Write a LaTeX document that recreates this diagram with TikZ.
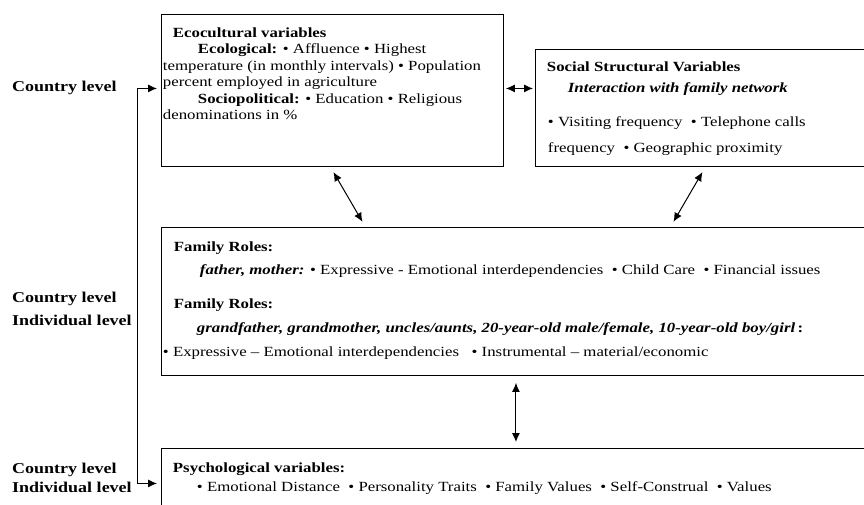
\documentclass[tikz,border=0pt]{standalone}
\usepackage{fontspec}
\setmainfont{Liberation Serif}[FakeStretch=1.2]
\usetikzlibrary{arrows.meta}

\newcommand\boxlines[3]{\parbox[c][#1][t]{#2}{\fontsize{14}{16.5}\selectfont
  \raggedright\leftskip=1.5pt\parindent=0pt #3}}

\begin{document}
\begin{tikzpicture}[x=1pt, y=-1pt, line cap=round, >={Latex[length=9pt,width=8pt]},
  box/.style={draw, line width=0.9pt, inner sep=0pt, anchor=north west},
  level/.style={align=left, anchor=west, inner sep=0pt}]

\clip (0,0) rectangle (864,504);

\node[box] (eco) at (161,14) {\boxlines{152pt}{342pt}{\vspace*{11.4pt}\strut
\hspace*{10pt}\textbf{Ecocultural variables}\\
\hspace*{35pt}\textbf{Ecological:} • Affluence • Highest\\
temperature (in monthly intervals) • Population\\
percent employed in agriculture\\
\hspace*{35pt}\textbf{Sociopolitical:} • Education • Religious\\
denominations in \%}};

\node[box] (soc) at (535,49) {\boxlines{117pt}{335pt}{\vspace*{10.4pt}\strut
\hspace*{10pt}\textbf{Social Structural Variables}\\[4.5pt]
\hspace*{31pt}\textbf{\textit{Interaction with family network}}\\[17.5pt]
\hspace*{11pt}• Visiting frequency \ • Telephone calls\\[9.5pt]
\hspace*{11pt}frequency \ • Geographic proximity}};

\node[box] (fam) at (161,227) {\boxlines{148pt}{709pt}{\vspace*{12.4pt}\strut
\hspace*{11pt}\textbf{Family Roles:}\\[6.5pt]
\hspace*{37pt}\textbf{\textit{father, mother:}} • Expressive - Emotional interdependencies \ • Child Care \ • Financial issues\\[17.5pt]
\hspace*{11pt}\textbf{Family Roles:}\\[7.5pt]
\hspace*{34pt}\textbf{\textit{grandfather, grandmother, uncles/aunts, 20-year-old male/female, 10-year-old boy/girl}}\textbf{\,:}\\[7.5pt]
• Expressive -- Emotional interdependencies \ \ • Instrumental -- material/economic}};

\node[box] (psy) at (161,448) {\boxlines{70pt}{709pt}{\vspace*{12.4pt}\strut
\hspace*{10pt}\textbf{Psychological variables:}\\[2.5pt]
\hspace*{34pt}• Emotional Distance \ • Personality Traits \ • Family Values \ • Self-Construal \ • Values}};

% levels on the left
\node[level, font=\fontsize{15}{19}\selectfont\bfseries] (lvleco) at (12,88) {Country level};
\node[level, font=\fontsize{15}{23}\selectfont\bfseries] (lvlfam) at (12,308.5) {Country level\\Individual level};
\node[level, font=\fontsize{15}{19}\selectfont\bfseries] (lvlpsy) at (12,477.5) {Country level\\Individual level};

\draw[<->, line width=1pt, shorten <=4pt, shorten >=4pt] ([yshift=2pt]eco.west) -- ++(-24,0) |- (psy.west);

\draw[<->, line width=1pt, shorten <=2pt, shorten >=2pt] ([yshift=2pt]eco.east) -- ([yshift=2pt]eco.east -| soc.west);
\draw[<->, line width=1pt, shorten <=6pt, shorten >=6pt] ([xshift=-2pt]eco.south) -- ([xshift=33pt]eco.south |- fam.north);
\draw[<->, line width=1pt, shorten <=6pt, shorten >=6pt] ([xshift=2.5pt]soc.south) -- ([xshift=-32.5pt]soc.south |- fam.north);
\draw[<->, line width=1pt, shorten <=7pt, shorten >=6pt] (fam.south) -- (psy.north);

\end{tikzpicture}
\end{document}
